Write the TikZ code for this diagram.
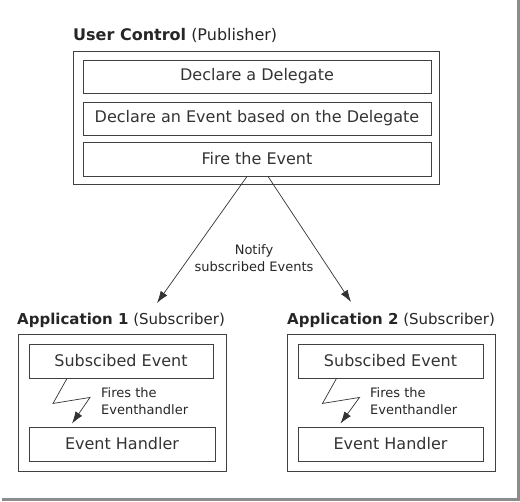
\documentclass[tikz,border=0pt]{standalone}
\usepackage{fontspec}
\setmainfont{DejaVu Sans}
\usetikzlibrary{arrows.meta}

\tikzset{
  frame/.style={draw=black!75, line width=0.9pt, inner sep=0pt},
  part/.style={frame, text=black!80, font=\fontsize{16}{18}\selectfont},
  heading/.style={anchor=base west, inner sep=0pt, text=black!85, font=\fontsize{16}{18}\selectfont},
  remark/.style={align=left, inner sep=0pt, text=black!85, font=\fontsize{13}{16.5}\selectfont},
  flow/.style={draw=black!80, line width=0.7pt, -{Latex[length=12pt,width=8pt]}}
}

\begin{document}
\begin{tikzpicture}[x=1pt,y=-1pt]
      \useasboundingbox (0,0) rectangle (520,502);
      % shadow of the frame
      \draw[black!45, line width=3pt] (2,499.5) -- (518.5,499.5) -- (518.5,0);
      % publisher
      \node[heading] (uctitle) at (73,41) {\textbf{User Control} (Publisher)};
      \node[frame, minimum width=366pt, minimum height=133pt] (ucbox) at (256,117.5) {};
      \node[part, minimum width=348pt, minimum height=33pt] (delegate) at (257,76.5) {Declare a Delegate};
      \node[part, minimum width=348pt, minimum height=33pt] (event) at (257,118.5) {Declare an Event based on the Delegate};
      \node[part, minimum width=348pt, minimum height=34pt] (fire) at (257,159) {Fire the Event};
      \node[remark, align=center] (notify) at (254,258) {Notify\\subscribed Events};
      % subscribers
      \node[heading, font=\fontsize{15}{18}\selectfont] (app1title) at (17,325) {\textbf{Application 1} (Subscriber)};
      \node[frame, minimum width=208pt, minimum height=137pt] (app1box) at (122,402.5) {};
      \node[part, minimum width=184pt, minimum height=34pt] (sub1) at (121,361) {Subscibed Event};
      \node[part, minimum width=186pt, minimum height=34pt] (hand1) at (122,444) {Event Handler};
      \node[remark, anchor=west] (fires1) at (101,401) {Fires the\\Eventhandler};
      \node[heading, font=\fontsize{15}{18}\selectfont] (app2title) at (287,325) {\textbf{Application 2} (Subscriber)};
      \node[frame, minimum width=208pt, minimum height=137pt] (app2box) at (391,402.5) {};
      \node[part, minimum width=185pt, minimum height=34pt] (sub2) at (390.5,361) {Subscibed Event};
      \node[part, minimum width=185pt, minimum height=34pt] (hand2) at (390.5,444) {Event Handler};
      \node[remark, anchor=west] (fires2) at (370,401) {Fires the\\Eventhandler};
      % notify arrows
      \coordinate (to1) at (157,303);
      \coordinate (to2) at (351,302);
      \draw[flow] ([xshift=-10pt]fire.south) -- (to1);
      \draw[flow] ([xshift=11pt]fire.south) -- (to2);
      % fires the handler
      \draw[flow] ([xshift=-54pt]sub1.south) -- ++(-14,25) -- ++(37,-6) -- ([xshift=-50pt,yshift=3pt]hand1.north);
      \draw[flow] ([xshift=-54pt]sub2.south) -- ++(-14,25) -- ++(37,-6) -- ([xshift=-50pt,yshift=3pt]hand2.north);
\end{tikzpicture}
\end{document}
